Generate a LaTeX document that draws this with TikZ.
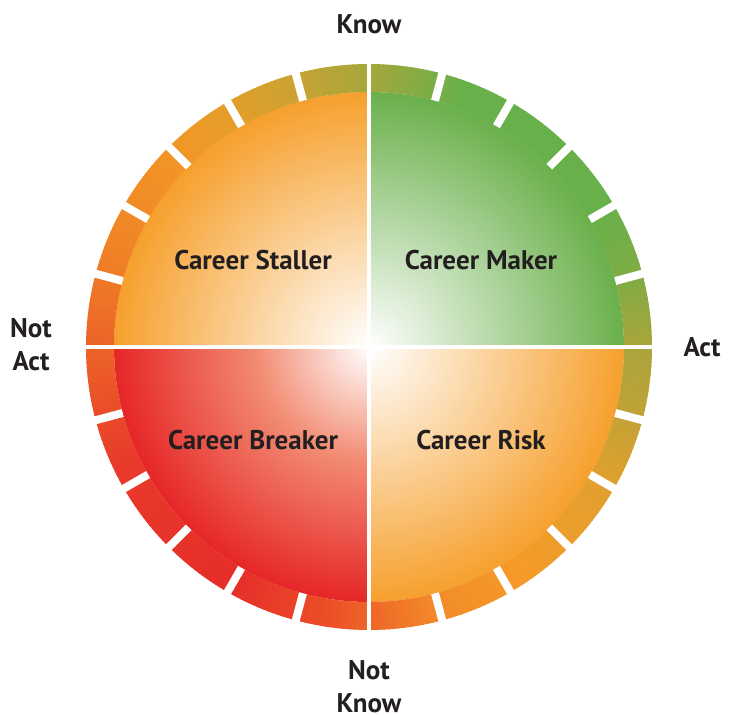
\documentclass[tikz,border=0pt]{standalone}
\usepackage{fontspec}
\setmainfont{PT Sans}

% 颜色
\definecolor{txt}{RGB}{35,31,32}
\definecolor{qtr}{RGB}{106,176,75}
\definecolor{qtl}{RGB}{246,160,45}
\definecolor{qbl}{RGB}{230,38,40}
\definecolor{qblmid}{RGB}{242,140,115}
\definecolor{qbr}{RGB}{246,160,45}
\definecolor{k0}{RGB}{170,165,60}
\definecolor{k15}{RGB}{128,172,68}
\definecolor{k30}{RGB}{104,176,74}
\definecolor{k70}{RGB}{104,176,74}
\definecolor{k90}{RGB}{165,167,60}
\definecolor{k105}{RGB}{200,163,52}
\definecolor{k120}{RGB}{228,158,42}
\definecolor{k135}{RGB}{242,150,38}
\definecolor{k160}{RGB}{240,130,38}
\definecolor{k180}{RGB}{236,100,40}
\definecolor{k205}{RGB}{232,58,42}
\definecolor{k240}{RGB}{230,45,42}
\definecolor{k262}{RGB}{236,80,40}
\definecolor{k285}{RGB}{243,140,40}
\definecolor{k305}{RGB}{245,155,40}
\definecolor{k330}{RGB}{225,160,46}
\definecolor{k350}{RGB}{185,163,56}

% 红色象限的渐变
\pgfdeclareradialshading{redfade}{\pgfpointorigin}{color(0bp)=(white); color(11bp)=(qblmid); color(25bp)=(qbl); color(50bp)=(qbl)}

\tikzset{
  quad/.style={font=\fontsize{27}{33}\selectfont\bfseries, text=txt},
  axislbl/.style={font=\fontsize{27}{33}\selectfont\bfseries, text=txt, align=center, inner sep=0pt},
  gap/.style={white, line width=8pt},
  axisline/.style={white, line width=4pt}
}

\begin{document}
\begin{tikzpicture}[x=1pt, y=1pt]
    \def\rin{255}
    \def\rout{283}
    \useasboundingbox (-369,-368) rectangle (368,347);

    % 四个象限
    \foreach \a/\c in {0/qtr, 90/qtl, 270/qbr}{
        \pgfmathsetmacro\e{\a+90}
        \begin{scope}
            \clip (0,0) -- (\a:\rin+2) arc[start angle=\a, end angle=\e, radius=\rin+2] -- cycle;
            \shade[inner color=white, outer color=\c] (0,0) circle[radius=\rin];
        \end{scope}
    }
    \begin{scope}
        \clip (0,0) -- (180:\rin+2) arc[start angle=180, end angle=270, radius=\rin+2] -- cycle;
        \shade[shading=redfade] (0,0) circle[radius=\rin];
    \end{scope}

    % 外环
    \foreach \a/\b/\ca/\cb in {0/15/k0/k15, 15/30/k15/k30, 30/70/k30/k70, 70/90/k70/k90,
        90/105/k90/k105, 105/120/k105/k120, 120/135/k120/k135, 135/160/k135/k160,
        160/180/k160/k180, 180/205/k180/k205, 205/240/k205/k240, 240/262/k240/k262,
        262/285/k262/k285, 285/305/k285/k305, 305/330/k305/k330, 330/350/k330/k350,
        350/360/k350/k0}{
        \pgfmathtruncatemacro\n{\b-\a-1}
        \foreach \i in {0,...,\n}{
            \pgfmathsetmacro\p{100*(\i+0.5)/(\b-\a)}
            \pgfmathsetmacro\s{\a+\i}
            \pgfmathsetmacro\t{\a+\i+1.2}
            \fill[fill=\cb!\p!\ca] (\s:\rin) -- (\s:\rout)
                arc[start angle=\s, end angle=\t, radius=\rout]
                -- (\t:\rin) arc[start angle=\t, end angle=\s, radius=\rin] -- cycle;
        }
    }

    % 缺口
    \foreach \a in {15,30,45,60,75,105,120,135,150,165,195,210,225,240,255,285,300,315,330,345}
        \draw[gap] (\a:\rin) -- (\a:\rout+2);

    % 十字线
    \coordinate (l) at (-\rout-2,0);
    \coordinate (r) at (\rout+2,0);
    \coordinate (t) at (0,\rout+2);
    \coordinate (b) at (0,-\rout-2);
    \draw[axisline] (l) -- (r);
    \draw[axisline] (t) -- (b);

    % 文字
    \node[quad] (staller) at (-116,87) {Career Staller};
    \node[quad] (maker) at (112,87) {Career Maker};
    \node[quad] (breaker) at (-116,-93) {Career Breaker};
    \node[quad] (risk) at (112,-93) {Career Risk};

    \node[axislbl] (know) at (0,323) {Know};
    \node[axislbl] (act) at (333,0) {Act};
    \node[axislbl] (notact) at (-338,2) {Not\\Act};
    \node[axislbl] (notknow) at (0,-340) {Not\\Know};

\end{tikzpicture}
\end{document}
